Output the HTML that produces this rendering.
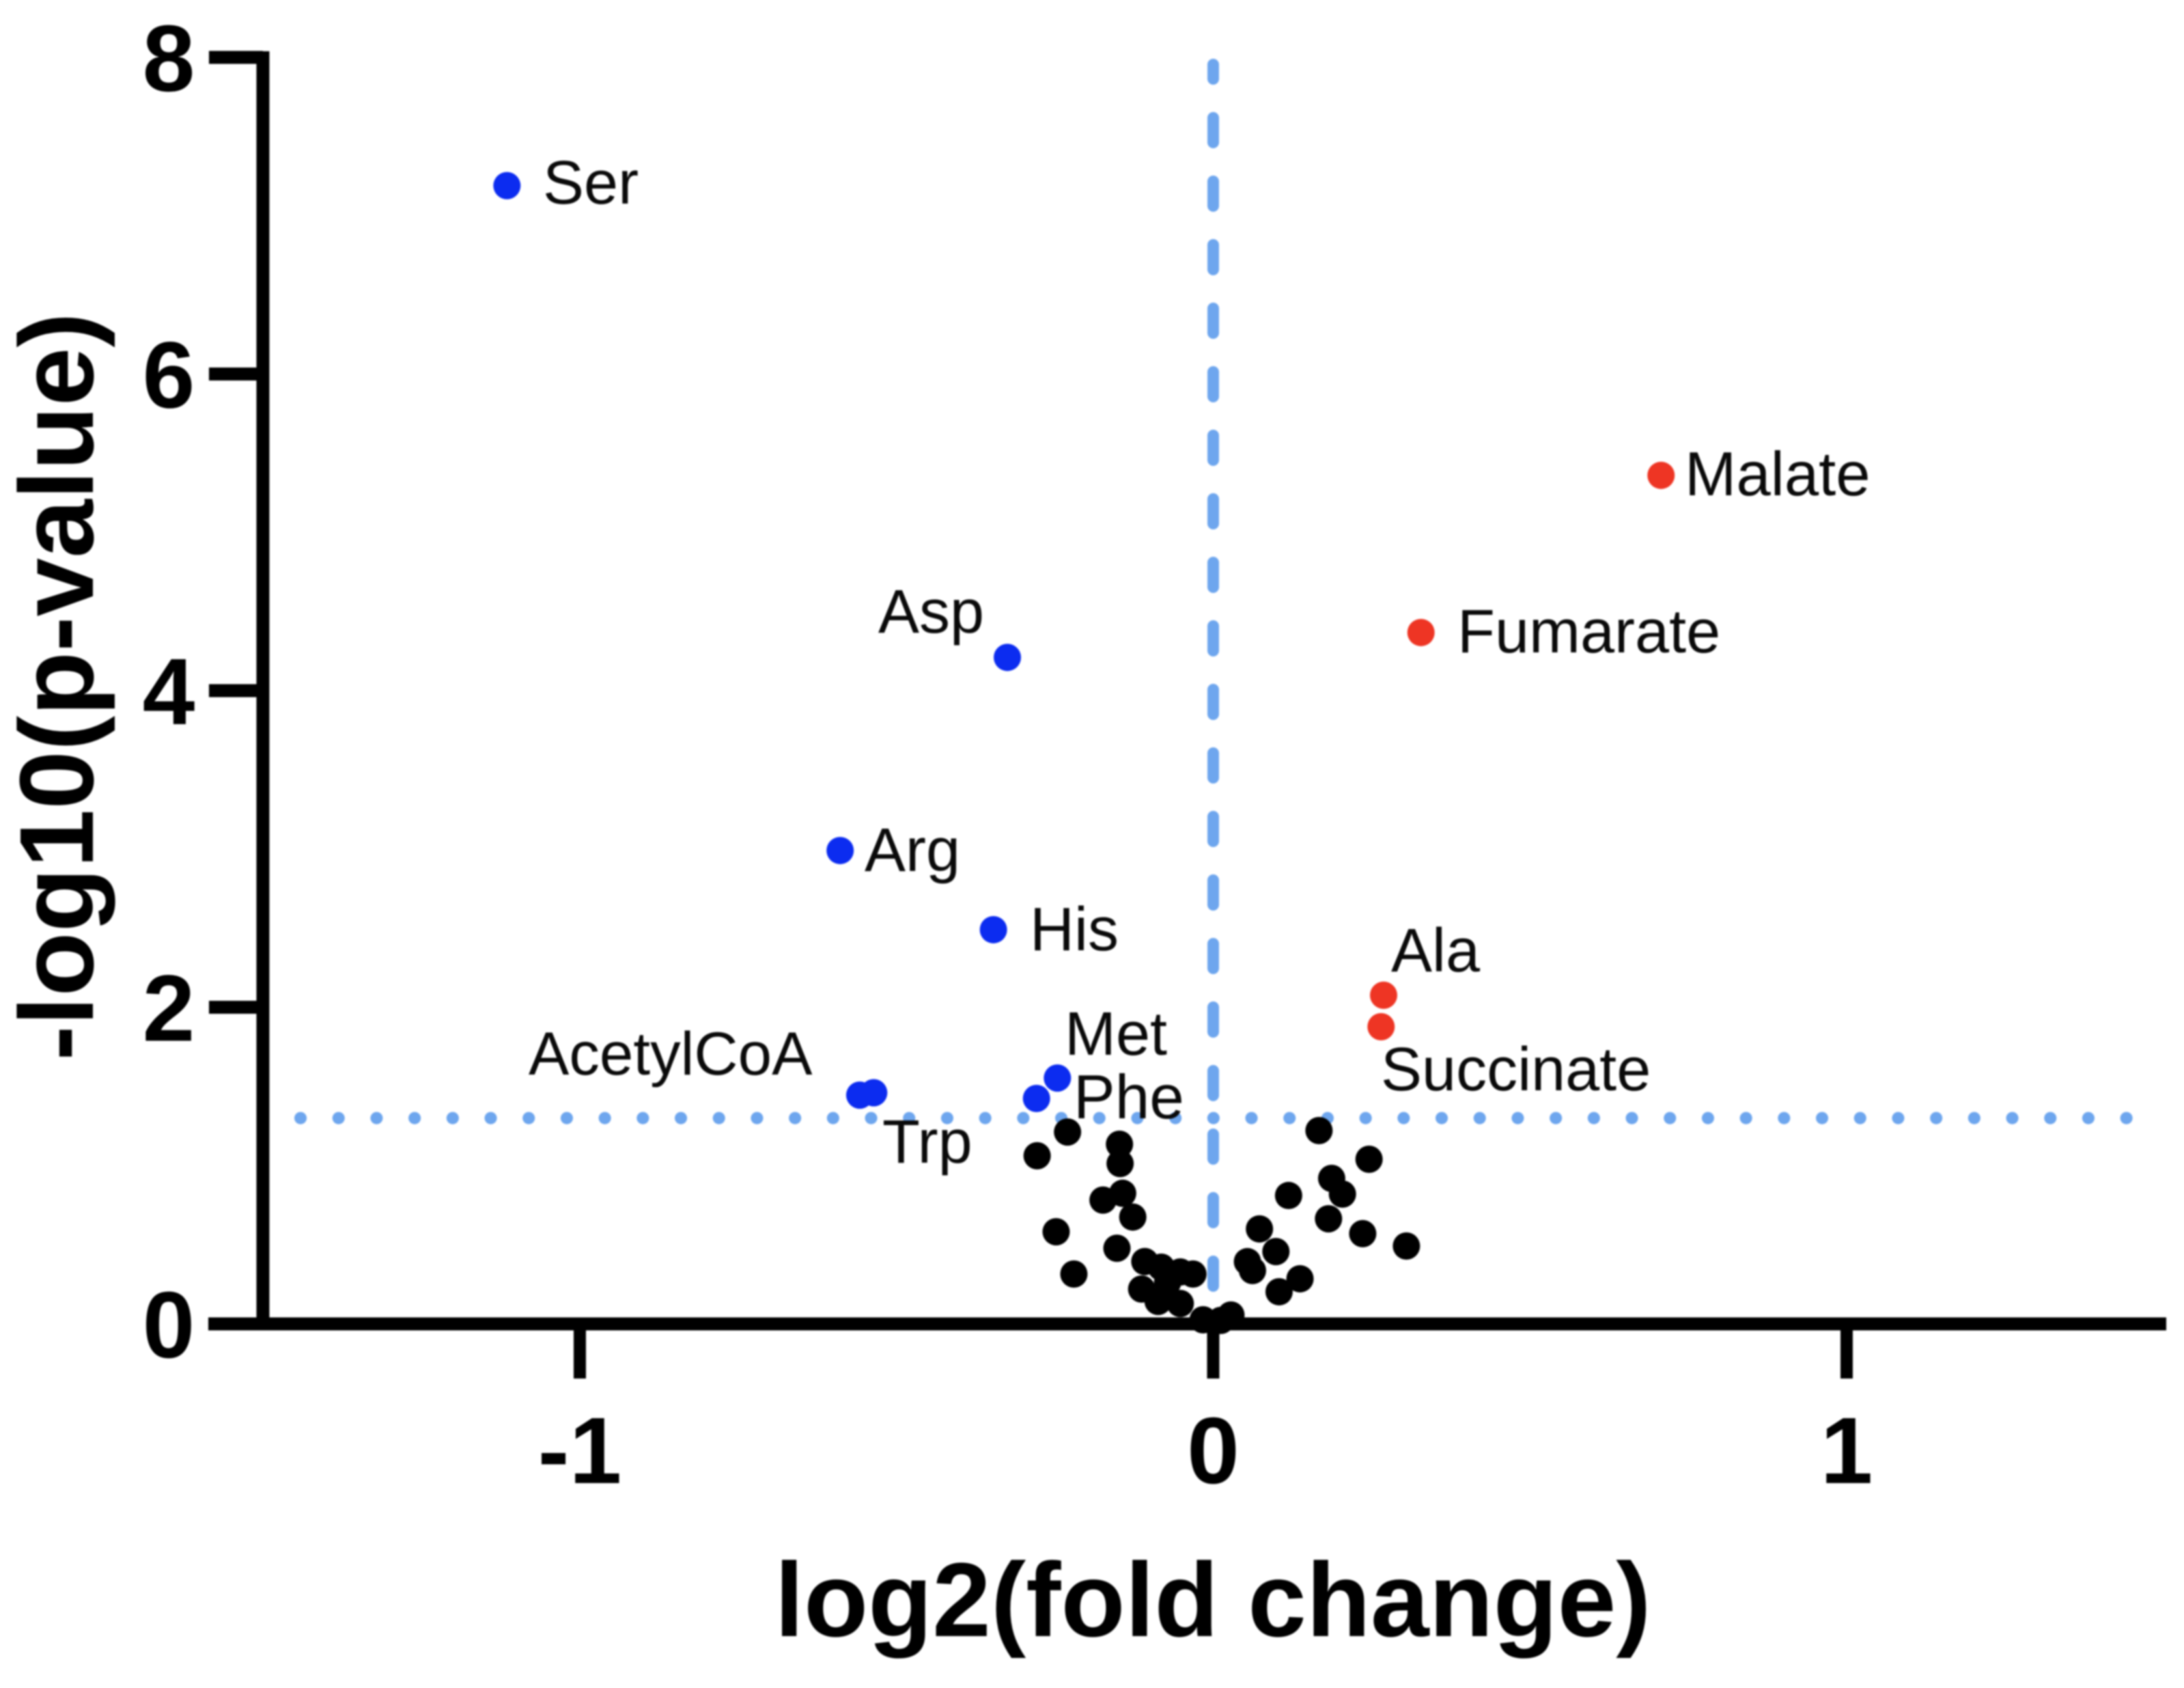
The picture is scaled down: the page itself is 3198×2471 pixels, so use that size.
<!DOCTYPE html>
<html lang="en">
<head>
<meta charset="utf-8">
<title>Volcano plot</title>
<style>
html,body{margin:0;padding:0;background:#fff;width:3198px;height:2471px;overflow:hidden}
svg{display:block;filter:blur(1.2px)}
text{font-family:"Liberation Sans",Arial,sans-serif;fill:#0a0a0a}
.tick{font-size:138px;font-weight:700;fill:#000}
.title{font-size:154px;font-weight:700;fill:#000}
.lab{font-size:90px}
</style>
</head>
<body>
<svg id="chart" xmlns="http://www.w3.org/2000/svg" width="3198" height="2471" viewBox="0 0 3198 2471">
  <rect width="3198" height="2471" fill="#fff"/>
  <g id="guides"></g>
  <g id="axes"></g>
  <g id="points"></g>
  <text class="title" x="1776" y="2395" text-anchor="middle">log2(fold change)</text>
  <text class="title" transform="translate(136,1005) rotate(-90)" text-anchor="middle">-log10(p-value)</text>
  <g>
    <text class="lab" x="795" y="298">Ser</text>
    <text class="lab" x="2467" y="725" style="font-size:90.5px">Malate</text>
    <text class="lab" x="2134" y="955">Fumarate</text>
    <text class="lab" x="1286" y="926">Asp</text>
    <text class="lab" x="1266" y="1275">Arg</text>
    <text class="lab" x="1508" y="1391">His</text>
    <text class="lab" x="2037" y="1422">Ala</text>
    <text class="lab" x="1559" y="1544">Met</text>
    <text class="lab" x="1572" y="1637" style="font-size:91px">Phe</text>
    <text class="lab" x="774" y="1573" style="font-size:89px">AcetylCoA</text>
    <text class="lab" x="2022" y="1596">Succinate</text>
    <text class="lab" x="1292" y="1702">Trp</text>
  </g>
</svg>
<script>
const xTickValues = [-1, 0, 1];
const xTickLabels = ['-1', '0', '1'];
const yTickValues = [0, 2, 4, 6, 8];
const yTickLabels = ['0', '2', '4', '6', '8'];
const pValueThreshold = [1.3];
const foldChangeCenter = [0];

const downX = [-1.115, -0.325, -0.589, -0.347, -0.558, -0.536, -0.246, -0.279];
const downY = [7.19, 4.21, 2.99, 2.49, 1.445, 1.46, 1.553, 1.424];
const upX = [0.707, 0.328, 0.269, 0.265];
const upY = [5.36, 4.367, 2.076, 1.877];
const nsX = [-0.230, -0.278, -0.148, -0.147, -0.143, -0.174, -0.127, -0.248, -0.152, -0.220, -0.108, -0.082, -0.052, -0.032, -0.113, -0.087, -0.072, -0.052, -0.016, 0.012, 0.028, 0.167, 0.246, 0.187, 0.204, 0.119, 0.182, 0.236, 0.305, 0.073, 0.099, 0.054, 0.062, 0.137, 0.104];
const nsY = [1.212, 1.062, 1.135, 1.013, 0.825, 0.782, 0.675, 0.582, 0.478, 0.315, 0.394, 0.358, 0.328, 0.315, 0.22, 0.142, 0.263, 0.129, 0.026, 0.022, 0.056, 1.221, 1.04, 0.919, 0.82, 0.811, 0.664, 0.57, 0.492, 0.6, 0.457, 0.393, 0.337, 0.285, 0.203];

function xScale(v) { return 1776.5 + v * 927.5; }
function yScale(v) { return 1938 - v * 231.75; }

const NS = 'http://www.w3.org/2000/svg';
function make(tag, parent, attrs) {
  const el = document.createElementNS(NS, tag);
  for (const k in attrs) el.setAttribute(k, attrs[k]);
  parent.appendChild(el);
  return el;
}

const guides = document.getElementById('guides');
const axes = document.getElementById('axes');
const points = document.getElementById('points');

const hGuide = make('line', guides, {
  x1: 440, x2: 3125, y1: yScale(pValueThreshold[0]), y2: yScale(pValueThreshold[0]),
  stroke: '#6ea6ee', 'stroke-width': 18, 'stroke-linecap': 'round', 'stroke-dasharray': '0.1 55.6'
});



const vGuide = make('line', guides, {
  x1: xScale(foldChangeCenter[0]), x2: xScale(foldChangeCenter[0]), y1: 94.5, y2: 1892,
  stroke: '#6ea6ee', 'stroke-width': 17, 'stroke-linecap': 'round', 'stroke-dasharray': '36 57', 'stroke-dashoffset': 15
});



const yAxisLine = make('line', axes, { x1: 385, x2: 385, y1: 75, y2: 1947, stroke: '#000', 'stroke-width': 19 });



const xAxisLine = make('line', axes, { x1: 305, x2: 3172, y1: 1938, y2: 1938, stroke: '#000', 'stroke-width': 19 });



yTickValues.forEach(function (v, i) {
  const t = make('line', axes, { x1: 306, x2: 385, y1: yScale(v), y2: yScale(v), stroke: '#000', 'stroke-width': 19 });
  
  
  const l = make('text', axes, { class: 'tick', x: 247, y: yScale(v) + 49, 'text-anchor': 'middle' });
  
  
  l.textContent = yTickLabels[i];
});

xTickValues.forEach(function (v, i) {
  const t = make('line', axes, { x1: xScale(v), x2: xScale(v), y1: 1938, y2: 2018, stroke: '#000', 'stroke-width': 18 });
  
  
  const l = make('text', axes, { class: 'tick', x: xScale(v), y: 2171, 'text-anchor': 'middle' });
  
  
  l.textContent = xTickLabels[i];
});

nsX.forEach(function (v, i) {
  const c = make('circle', points, { cx: xScale(v), cy: yScale(nsY[i]), r: 20, fill: '#000' });
  
  
});
downX.forEach(function (v, i) {
  const c = make('circle', points, { cx: xScale(v), cy: yScale(downY[i]), r: 20, fill: '#0c2cf0' });
  
  
});
upX.forEach(function (v, i) {
  const c = make('circle', points, { cx: xScale(v), cy: yScale(upY[i]), r: 20, fill: '#ee3524' });
  
  
});
</script>
</body>
</html>
